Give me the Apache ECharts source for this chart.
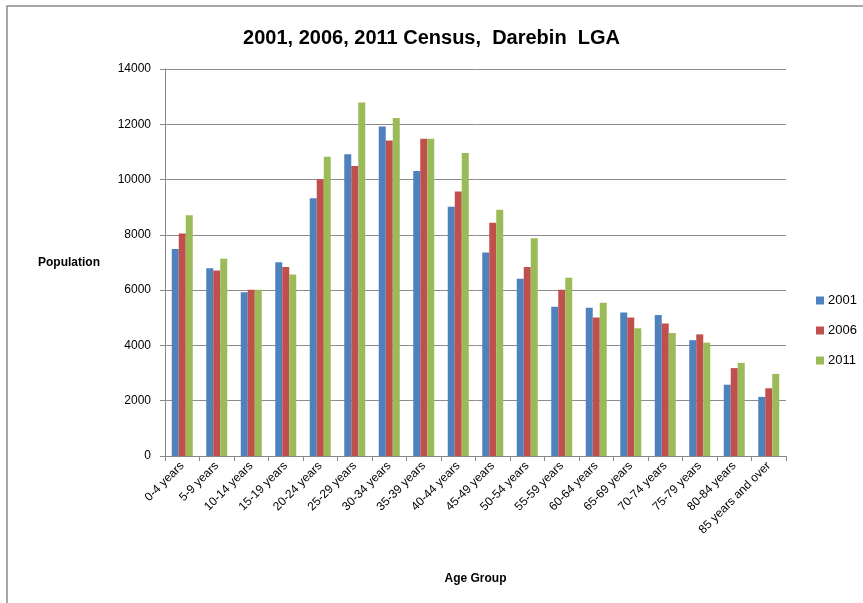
<!DOCTYPE html>
<html>
<head>
<meta charset="utf-8">
<script src="https://cdn.jsdelivr.net/npm/echarts@6/dist/echarts.min.js"></script>
<style>html,body{margin:0;padding:0;background:#fff;}#c{width:863px;height:603px;}</style>
</head>
<body>
<div id="c"></div>
<script>
const categories = ["0-4 years","5-9 years","10-14 years","15-19 years","20-24 years","25-29 years","30-34 years","35-39 years","40-44 years","45-49 years","50-54 years","55-59 years","60-64 years","65-69 years","70-74 years","75-79 years","80-84 years","85 years and over"];
const s2001 = [7490,6790,5920,7010,9320,10920,11920,10310,9020,7360,6410,5400,5360,5190,5100,4190,2580,2140];
const s2006 = [8050,6710,6010,6840,10010,10490,11410,11480,9570,8440,6840,6010,5010,5010,4790,4400,3180,2450];
const s2011 = [8710,7140,6010,6570,10830,12790,12230,11480,10960,8910,7880,6450,5540,4620,4450,4100,3370,2970];
const seriesNames = ["2001","2006","2011"];
const colors = ["#4F81BD","#C0504D","#9BBB59"];
const font = "'Liberation Sans', Arial, sans-serif";

const chart = echarts.init(document.getElementById('c'));
const data = [s2001, s2006, s2011];
chart.setOption({
  animation: false,
  backgroundColor: '#fff',
  graphic: [{
    type: 'rect', shape: {x: 7, y: 6, width: 900, height: 640},
    style: {fill: 'none', stroke: '#8a8a8a', lineWidth: 1.5}, silent: true
  }],
  title: {
    text: '2001, 2006, 2011 Census,  Darebin  LGA',
    left: 'center', top: 23,
    textStyle: {fontFamily: font, fontSize: 20, fontWeight: 'bold', color: '#000'}
  },
  legend: {
    orient: 'vertical', left: 811, top: 289, itemWidth: 8, itemHeight: 8, itemGap: 17,
    icon: 'rect',
    data: seriesNames,
    textStyle: {fontFamily: font, fontSize: 13, color: '#000', padding: [0,0,0,-1]}
  },
  grid: {left: 165, right: 77, top: 69, bottom: 147, containLabel: false},
  xAxis: {
    type: 'category', data: categories,
    name: 'Age Group', nameLocation: 'middle', nameGap: 117,
    nameTextStyle: {fontFamily: font, fontSize: 12, fontWeight: 'bold', color: '#000'},
    axisLine: {lineStyle: {color: '#888', width: 1}},
    axisTick: {show: true, alignWithLabel: false, length: 5, lineStyle: {color: '#888'}},
    axisLabel: {rotate: 45, interval: 0, fontFamily: font, fontSize: 12, color: '#000', margin: 8}
  },
  yAxis: {
    type: 'value', min: 0, max: 14000, interval: 2000,
    name: 'Population', nameLocation: 'middle', nameRotate: 0, nameGap: 65,
    nameTextStyle: {fontFamily: font, fontSize: 12, fontWeight: 'bold', color: '#000', padding: [5,0,0,0]},
    axisLine: {show: true, lineStyle: {color: '#888'}},
    axisTick: {show: true, length: 5, lineStyle: {color: '#888'}},
    splitLine: {lineStyle: {color: '#8c8c8c', width: 1}},
    axisLabel: {fontFamily: font, fontSize: 12, color: '#000', margin: 14, formatter: v => String(v)}
  },
  series: seriesNames.map((n, i) => ({
    name: n, type: 'bar', data: data[i], barWidth: 7, barGap: '0%',
    itemStyle: {color: colors[i]}
  }))
});
</script>
</body>
</html>
